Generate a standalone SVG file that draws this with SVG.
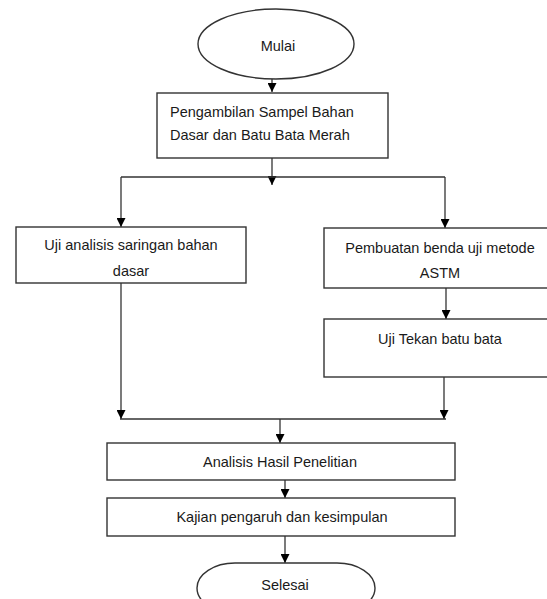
<svg xmlns="http://www.w3.org/2000/svg" width="547" height="599" viewBox="0 0 547 599">
<defs>
<marker id="ah" viewBox="0 0 10 10" refX="10" refY="5" markerWidth="9" markerHeight="9" markerUnits="userSpaceOnUse" orient="auto">
<path d="M0,0 L10,5 L0,10 Z" fill="#000"/>
</marker>
</defs>
<style>
.n{fill:#fff;stroke:#333;stroke-width:1.4}
.t{font-family:"Liberation Sans",Arial,sans-serif;font-size:14.5px;fill:#1a1a1a}
.c{stroke:#333;stroke-width:1.3;fill:none}
.a{marker-end:url(#ah)}
</style>
<rect width="547" height="599" fill="#fff"/>
<g id="connectors">
<line class="c a" x1="272" y1="79" x2="272" y2="92"/>
<line class="c a" x1="272" y1="158" x2="272" y2="185"/>
<line class="c" x1="121" y1="177" x2="445" y2="177"/>
<line class="c a" x1="121" y1="177" x2="121" y2="227"/>
<line class="c a" x1="445" y1="177" x2="445" y2="228"/>
<line class="c a" x1="446" y1="288" x2="446" y2="319"/>
<line class="c a" x1="121" y1="283" x2="121" y2="419"/>
<line class="c a" x1="444" y1="377" x2="444" y2="419"/>
<line class="c" x1="120" y1="419" x2="446" y2="419"/>
<line class="c a" x1="280" y1="419" x2="280" y2="443"/>
<line class="c a" x1="285" y1="480" x2="285" y2="498"/>
<line class="c a" x1="285" y1="536" x2="285" y2="563"/>
</g>
<g id="mulai">
<ellipse class="n" cx="276" cy="44" rx="78" ry="35"/>
<text class="t" x="278" y="51" text-anchor="middle">Mulai</text>
</g>
<g id="pengambilan">
<rect class="n" x="157" y="93" width="231" height="65"/>
<text class="t" x="170" y="117">Pengambilan Sampel Bahan</text>
<text class="t" x="170" y="140">Dasar dan Batu Bata Merah</text>
</g>
<g id="uji-analisis">
<rect class="n" x="16" y="227" width="230" height="56"/>
<text class="t" x="131" y="250" text-anchor="middle">Uji analisis saringan bahan</text>
<text class="t" x="131" y="276" text-anchor="middle">dasar</text>
</g>
<g id="pembuatan">
<rect class="n" x="324" y="228" width="230" height="60"/>
<text class="t" x="440" y="253" text-anchor="middle">Pembuatan benda uji metode</text>
<text class="t" x="440" y="278" text-anchor="middle">ASTM</text>
</g>
<g id="uji-tekan">
<rect class="n" x="324" y="319" width="230" height="58"/>
<text class="t" x="440" y="344" text-anchor="middle">Uji Tekan batu bata</text>
</g>
<g id="analisis">
<rect class="n" x="107" y="443" width="348" height="37"/>
<text class="t" x="280" y="467" text-anchor="middle">Analisis Hasil Penelitian</text>
</g>
<g id="kajian">
<rect class="n" x="107" y="498" width="348" height="38"/>
<text class="t" x="282" y="522" text-anchor="middle">Kajian pengaruh dan kesimpulan</text>
</g>
<g id="selesai">
<rect class="n" x="197" y="563" width="178" height="50" rx="38" ry="30"/>
<text class="t" x="285" y="590" text-anchor="middle">Selesai</text>
</g>
</svg>
